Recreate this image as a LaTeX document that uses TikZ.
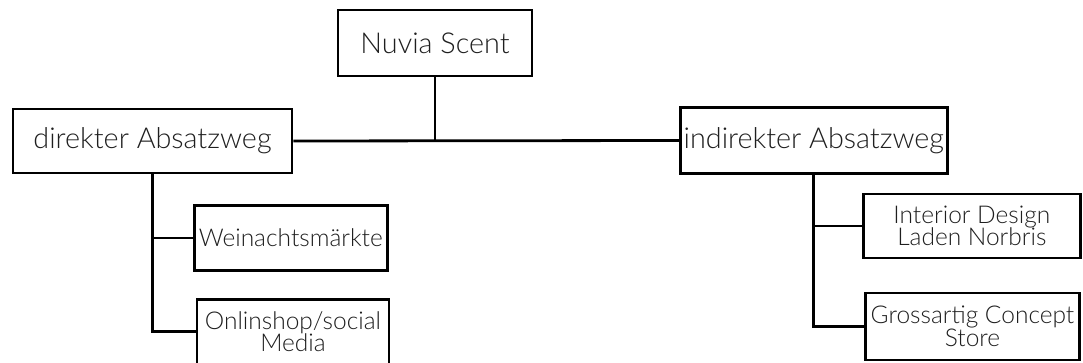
\documentclass[tikz,border=0pt]{standalone}
\usepackage{fontspec}
\setmainfont{Lato Light}
\begin{document}
\begin{tikzpicture}[x=1pt,y=-1pt,line width=2.8pt,
  box/.style={draw=black,line width=2.8pt,fill=white,inner sep=0pt,align=center,text=black!88},
  big/.style={box,font=\fontsize{28.8}{32}\selectfont},
  small/.style={box,font=\fontsize{24.5}{22.5}\selectfont},
  conn/.style={draw=black,line width=2.8pt}]
\useasboundingbox (0,0) rectangle (1083,363);
\node[big,minimum width=194pt,minimum height=66pt] (root) at (435,43) {Nuvia Scent};
\node[big,minimum width=279pt,minimum height=64pt] (dir) at (152.5,141) {direkter Absatzweg};
\node[big,minimum width=267pt,minimum height=66pt] (ind) at (813.8,140.5) {indirekter Absatzweg};
\node[small,minimum width=193pt,minimum height=65pt] (wm) at (290.8,238) {Weinachtsmärkte};
\node[small,minimum width=192pt,minimum height=65pt] (os) at (293,331.7) {Onlinshop/social\\Media};
\node[small,minimum width=217pt,minimum height=64pt] (id) at (971.8,226) {Interior Design\\Laden Norbris};
\node[small,minimum width=214pt,minimum height=67pt] (gc) at (972.5,326.5) {Grossartig Concept\\Store};
\draw[conn] (dir.east) -- (ind.west);
\draw[conn] (root.south) -- (root.south |- dir.east);
\draw[conn] (dir.south) |- (os.west);
\draw[conn] (dir.south |- wm.west) -- (wm.west);
\draw[conn] (ind.south) |- (gc.west);
\draw[conn] (ind.south |- id.west) -- (id.west);
\end{tikzpicture}
\end{document}
